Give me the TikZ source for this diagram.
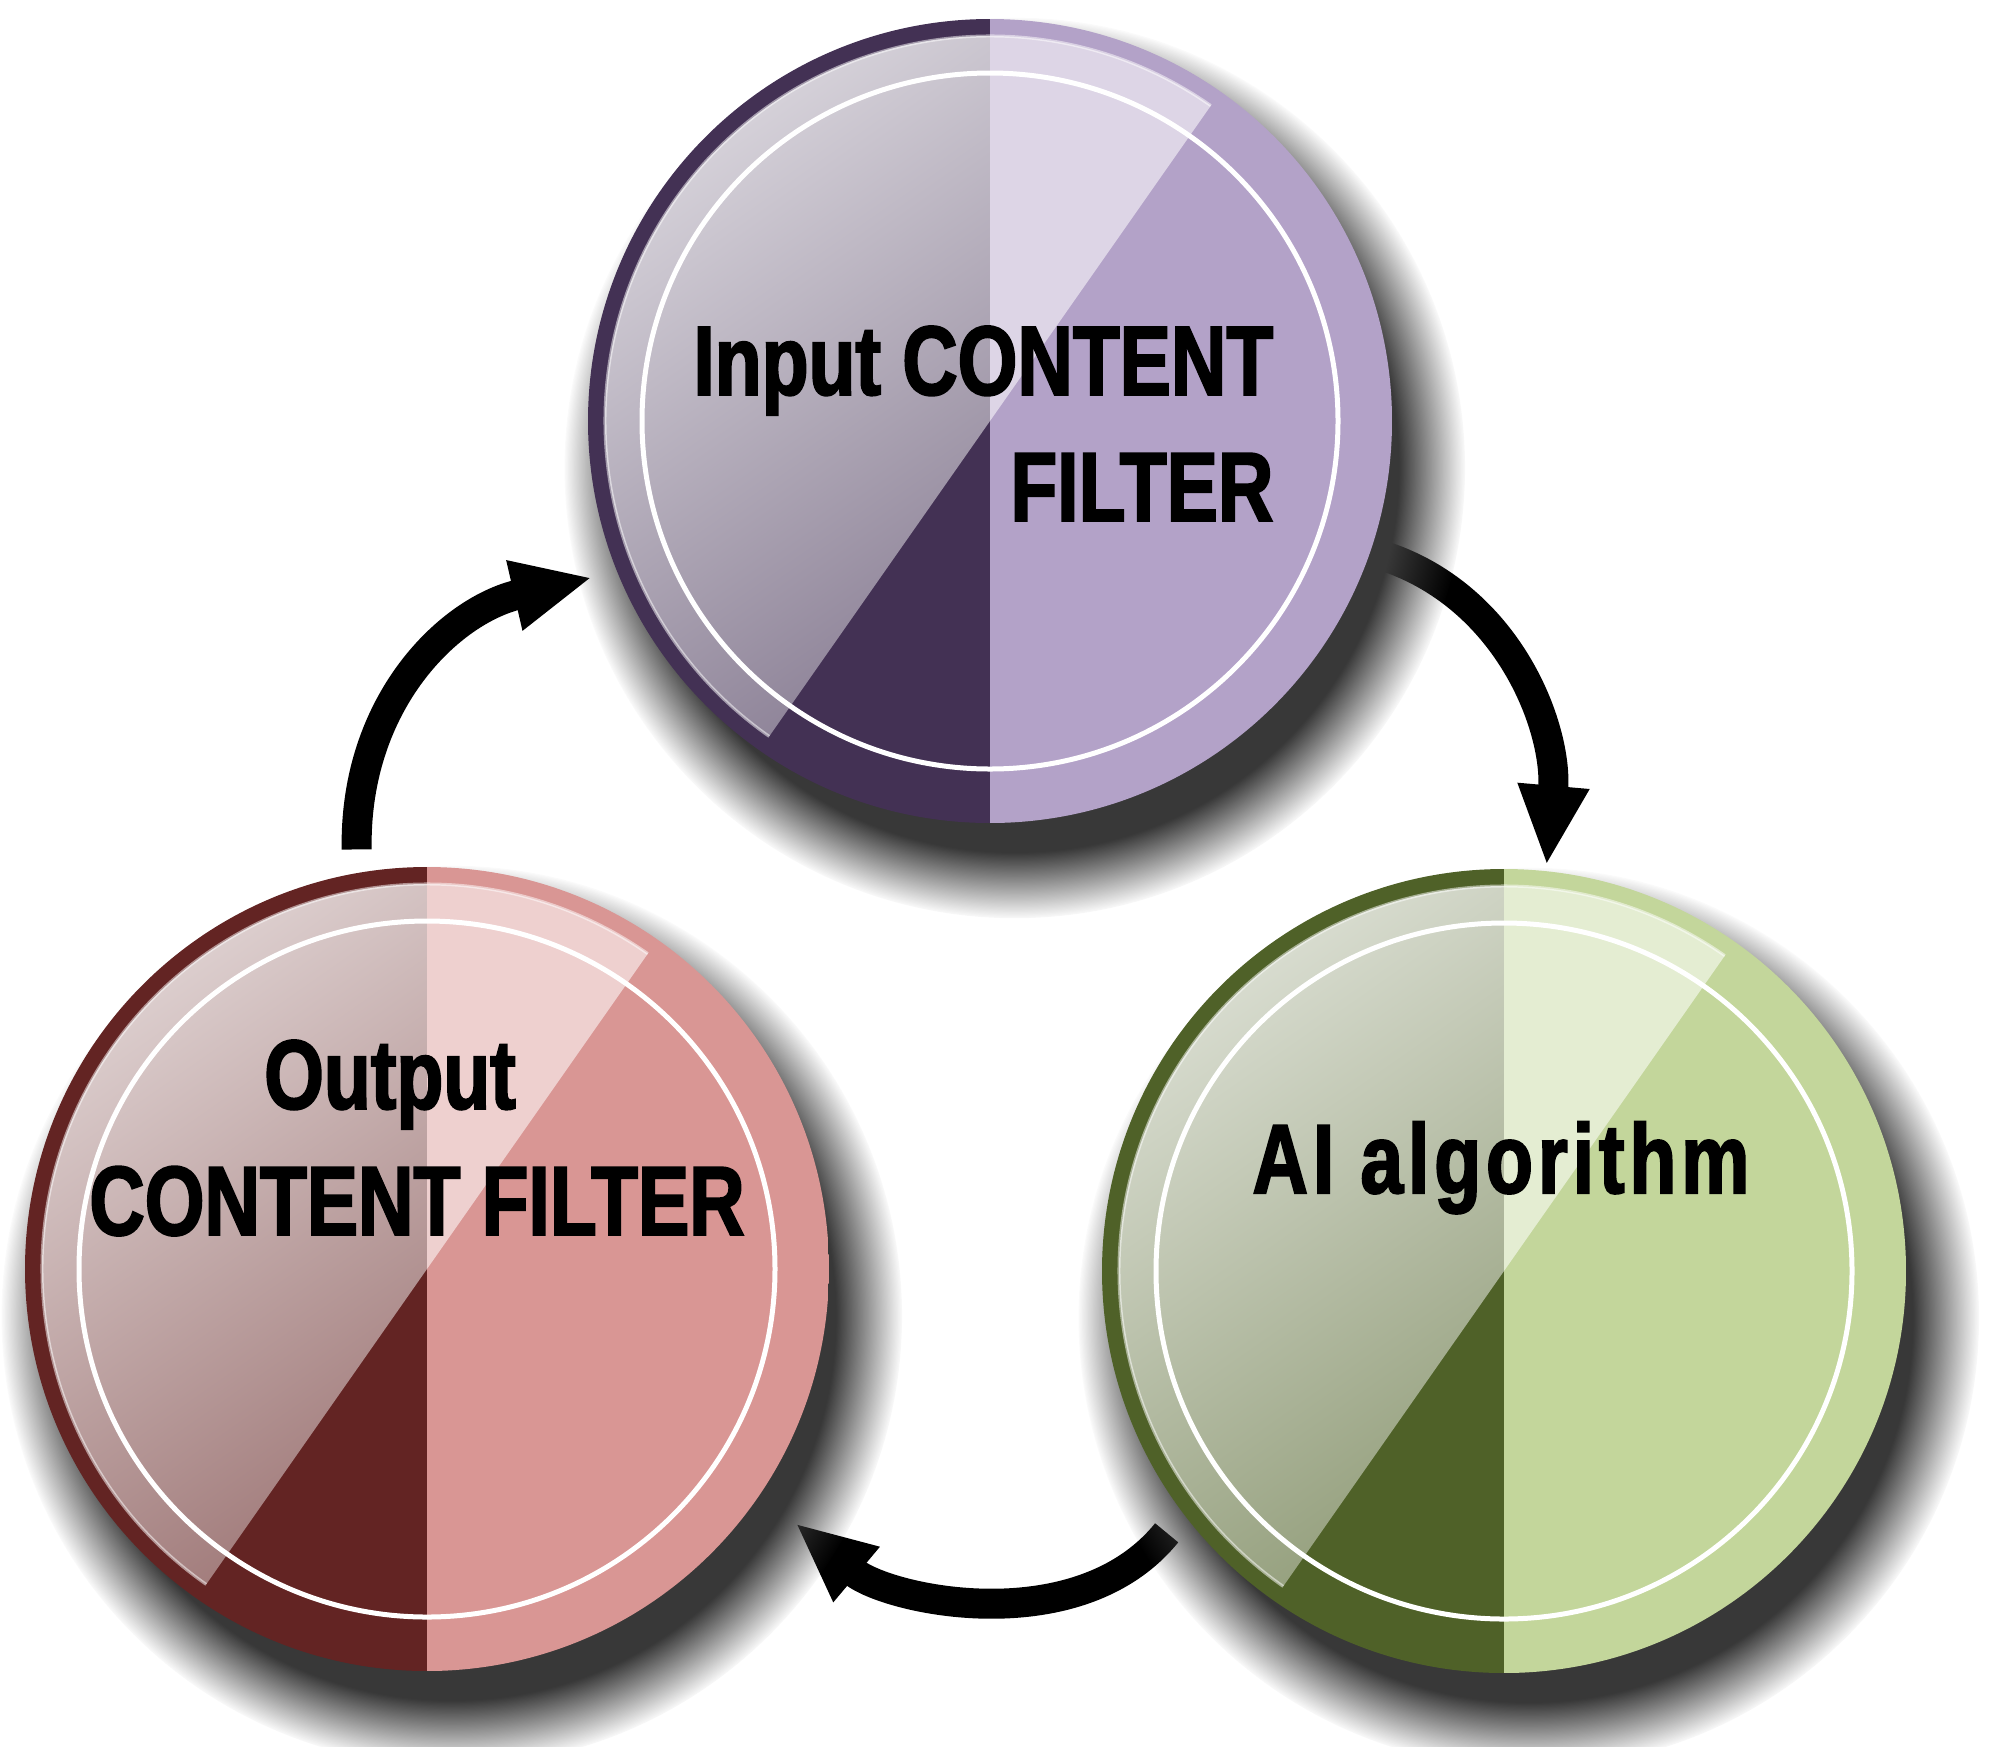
\documentclass[tikz,border=0pt]{standalone}
\usepackage{fontspec}
\usetikzlibrary{arrows.meta}
\usetikzlibrary{shadows}
\newfontfamily\disclabelfont[FakeStretch=0.78,FakeBold=2]{Liberation Sans Bold}
\definecolor{inputdark}{HTML}{433154}
\definecolor{inputlight}{HTML}{B3A2C8}
\definecolor{algodark}{HTML}{4F6128}
\definecolor{algolight}{HTML}{C3D69B}
\definecolor{outputdark}{HTML}{632423}
\definecolor{outputlight}{HTML}{D99694}
\pgfdeclarelayer{edgelayer}
\pgfdeclarelayer{nodelayer}
\pgfsetlayers{edgelayer,nodelayer,main}
\tikzset{disc/.style 2 args={circle, minimum size=8.04cm, inner sep=0pt,
	circular drop shadow={shadow xshift=0.22cm, shadow yshift=-0.42cm, shadow scale=1.12, opacity=1, fill=black!78},
	path picture={
		\coordinate (centre) at (path picture bounding box.center);
		\fill [#1] (path picture bounding box.south west) rectangle (path picture bounding box.north);
		\fill [#2] (path picture bounding box.south) rectangle (path picture bounding box.north east);
		\shade [top color=#1!20!white, bottom color=#1!60!white, shading angle=35]
			(centre) -- ++(90:3.85) arc [start angle=90, end angle=235, radius=3.85] -- cycle;
		\fill [#2!45!white] (centre) -- ++(55:3.85) arc [start angle=55, end angle=90, radius=3.85] -- cycle;
		\draw [white, opacity=0.5, line width=0.03cm] (centre) ++(55:3.85) arc [start angle=55, end angle=235, radius=3.85];
		\draw [white, line width=0.05cm] (centre) circle [radius=3.48];
	}}}
\tikzstyle{input_disc}=[disc={inputdark}{inputlight}]
\tikzstyle{algo_disc}=[disc={algodark}{algolight}]
\tikzstyle{output_disc}=[disc={outputdark}{outputlight}]
\tikzstyle{disc_text}=[inner sep=0pt, text=black, font=\disclabelfont\fontsize{28}{35.9}\selectfont]
\tikzstyle{transition}=[-{Triangle[length=0.8cm, width=0.66cm]}, line width=0.3cm, draw=black]

\begin{document}
\begin{tikzpicture}
	\useasboundingbox (0, 0) rectangle (19.95, -17.46);
	\begin{pgfonlayer}{nodelayer}
		\node [style=input_disc] (input) at (9.90, -4.21) {};
		\node [style=algo_disc] (algo) at (15.04, -12.71) {};
		\node [style=output_disc] (output) at (4.27, -12.69) {};
		\node [style=disc_text, anchor=east, align=right] (input_text) at (12.74, -4.235) {Input CONTENT\\FILTER};
		\node [style=disc_text, anchor=base] (algo_text) at (15.01, -11.93) {\addfontfeature{LetterSpace=5}AI algorithm};
		\node [style=disc_text, align=center] (output_text) at (4.17, -11.38) {Output\hspace*{0.54cm}\\CONTENT FILTER};
	\end{pgfonlayer}
	\begin{pgfonlayer}{edgelayer}
		\draw [style=transition, shorten >=0.05cm] (input.-19) to[out=-15, in=85] (algo.84);
		\draw [style=transition, shorten <=0.25cm, shorten >=0.45cm] (algo.217) to[out=231, in=-40] (output.-34);
		\draw [style=transition, shorten <=0.23cm, shorten >=0.25cm, looseness=1.1] (output.100) to[out=91, in=193] (input.202);
	\end{pgfonlayer}
\end{tikzpicture}
\end{document}
